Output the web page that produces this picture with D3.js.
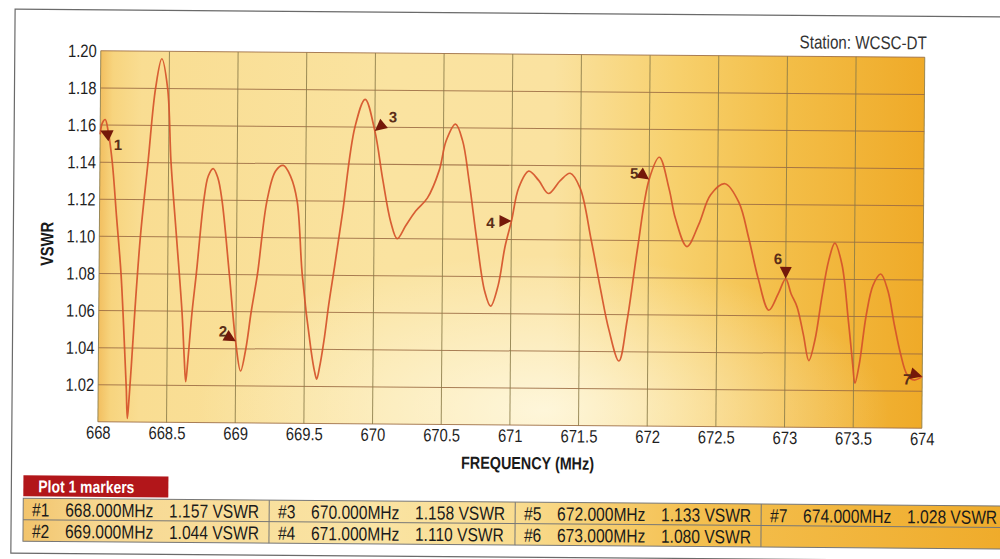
<!DOCTYPE html>
<html>
<head>
<meta charset="utf-8">
<script src="https://cdn.jsdelivr.net/npm/d3@7"></script>
<style>
  body { margin: 0; background: #fff; }
  text { font-family: "Liberation Sans", Arial, sans-serif; }
  /* no narrow face installed, so squeeze the text a little */
  .cond   { transform-box: fill-box; transform: scaleX(0.82); }
  .cond-s { transform-origin: left center; }
  .cond-m { transform-origin: center center; }
  .cond-e { transform-origin: right center; }
</style>
</head>
<body>
<div id="chart"></div>
<script>
// size of the page
var w = 1000;
var h = 559;

// trace
var freqs = [668.000, 668.015, 668.036, 668.060, 668.090, 668.125, 668.160, 668.190, 668.205, 668.214,
             668.225, 668.240, 668.263, 668.299, 668.350, 668.401, 668.445, 668.489, 668.518, 668.562,
             668.606, 668.625, 668.637, 668.650, 668.680, 668.708, 668.759, 668.790, 668.825, 668.860,
             668.891, 668.949, 669.000, 669.036, 669.073, 669.110, 669.153, 669.219, 669.280, 669.336,
             669.390, 669.438, 669.480, 669.547, 669.575, 669.591, 669.610, 669.642, 669.674, 669.715,
             669.770, 669.855, 669.928, 670.000, 670.060, 670.121, 670.169, 670.230, 670.302, 670.386,
             670.471, 670.520, 670.587, 670.640, 670.688, 670.748, 670.809, 670.853, 670.906, 670.954,
             671.000, 671.051, 671.123, 671.196, 671.268, 671.353, 671.425, 671.498, 671.582, 671.654,
             671.715, 671.790, 671.848, 671.920, 672.000, 672.073, 672.146, 672.194, 672.279, 672.364,
             672.449, 672.553, 672.655, 672.728, 672.800, 672.879, 672.947, 673.000, 673.040, 673.084,
             673.132, 673.173, 673.216, 673.264, 673.312, 673.356, 673.409, 673.457, 673.493, 673.510,
             673.540, 673.589, 673.637, 673.692, 673.745, 673.793, 673.841, 673.889, 673.940, 674.000];
var vswr  = [1.155, 1.161, 1.163, 1.156, 1.140, 1.110, 1.080, 1.040, 1.018, 1.002,
             1.012, 1.030, 1.060, 1.100, 1.140, 1.180, 1.196, 1.180, 1.140, 1.100,
             1.060, 1.035, 1.022, 1.032, 1.060, 1.080, 1.120, 1.133, 1.137, 1.132,
             1.120, 1.080, 1.043, 1.028, 1.040, 1.060, 1.080, 1.120, 1.136, 1.139,
             1.133, 1.120, 1.080, 1.040, 1.028, 1.024, 1.030, 1.045, 1.064, 1.085,
             1.114, 1.160, 1.175, 1.158, 1.132, 1.109, 1.100, 1.107, 1.115, 1.122,
             1.137, 1.153, 1.162, 1.153, 1.132, 1.100, 1.072, 1.064, 1.075, 1.096,
             1.110, 1.128, 1.137, 1.132, 1.125, 1.132, 1.136, 1.128, 1.100, 1.073,
             1.052, 1.035, 1.057, 1.096, 1.133, 1.145, 1.128, 1.112, 1.097, 1.109,
             1.125, 1.131, 1.121, 1.102, 1.080, 1.063, 1.072, 1.080, 1.072, 1.065,
             1.050, 1.036, 1.047, 1.070, 1.090, 1.0995, 1.088, 1.059, 1.034, 1.024,
             1.034, 1.061, 1.077, 1.083, 1.074, 1.056, 1.040, 1.029, 1.026, 1.028];

// markers (also the table)
var markerIds   = [1, 2, 3, 4, 5, 6, 7];
var markerFreqs = [668, 669, 670, 671, 672, 673, 674];
var markerVswr  = [1.157, 1.044, 1.158, 1.110, 1.133, 1.080, 1.028];

// axis ticks
var xTicks = [668, 668.5, 669, 669.5, 670, 670.5, 671, 671.5, 672, 672.5, 673, 673.5, 674];
var yTicks = [1.02, 1.04, 1.06, 1.08, 1.10, 1.12, 1.14, 1.16, 1.18, 1.20];
var yGrid  = [1.00, 1.02, 1.04, 1.06, 1.08, 1.10, 1.12, 1.14, 1.16, 1.18, 1.20];

var station = "Station: WCSC-DT";

// plot box
var plotL = 99, plotR = 923, plotT = 54, plotB = 425;

var svg = d3.select("#chart")
            .append("svg")
            .attr("width", w)
            .attr("height", h);

var defs = svg.append("defs");

var bg = defs.append("linearGradient").attr("id", "bg");
[["0%", "#f2bf60"], ["1.5%", "#f7d47e"], ["5%", "#f9dd92"], ["35%", "#fae3a0"],
 ["55%", "#fae2a0"], ["70%", "#f7d06c"], ["83%", "#f3be48"], ["100%", "#efaa28"]]
  .forEach(function(s) { bg.append("stop").attr("offset", s[0]).attr("stop-color", s[1]); });

var glow = defs.append("radialGradient").attr("id", "glow")
               .attr("cx", "54%").attr("cy", "96%").attr("r", "42%");
glow.append("stop").attr("offset", "0%").attr("stop-color", "#fffbe8").attr("stop-opacity", 0.8);
glow.append("stop").attr("offset", "100%").attr("stop-color", "#fffbe8").attr("stop-opacity", 0);

var tbg = defs.append("linearGradient").attr("id", "tbg");
[["0%", "#f2c46c"], ["8%", "#f7d892"], ["35%", "#fae4a4"], ["50%", "#f9dc90"],
 ["68%", "#f4c050"], ["100%", "#efab2a"]]
  .forEach(function(s) { tbg.append("stop").attr("offset", s[0]).attr("stop-color", s[1]); });

// the scan is a little tilted
var root = svg.append("g").attr("transform", "rotate(0.45,500,280)");

// outer frame
root.append("rect")
    .attr("x", 13).attr("y", 13)
    .attr("width", 1010).attr("height", 544)
    .attr("fill", "none")
    .attr("stroke", "#6a6a6a")
    .attr("stroke-width", 1.2);

var x = d3.scaleLinear().domain([668, 674]).range([plotL, plotR]);
var y = d3.scaleLinear().domain([1.00, 1.20]).range([plotB, plotT]);

root.append("rect")
    .attr("x", plotL).attr("y", plotT)
    .attr("width", plotR - plotL).attr("height", plotB - plotT)
    .attr("fill", "url(#bg)");
root.append("rect")
    .attr("x", plotL).attr("y", plotT)
    .attr("width", plotR - plotL).attr("height", plotB - plotT)
    .attr("fill", "url(#glow)");

// grid
root.append("g")
    .selectAll("line")
    .data(yGrid)
    .enter()
    .append("line")
    .attr("x1", plotL).attr("x2", plotR)
    .attr("y1", function(d) { return y(d); })
    .attr("y2", function(d) { return y(d); })
    .attr("stroke", "#9a6a42")
    .attr("stroke-opacity", 0.85)
    .attr("stroke-width", 1);

root.append("g")
    .selectAll("line")
    .data(xTicks)
    .enter()
    .append("line")
    .attr("y1", plotT).attr("y2", plotB)
    .attr("x1", function(d) { return x(d); })
    .attr("x2", function(d) { return x(d); })
    .attr("stroke", "#8a7a48")
    .attr("stroke-opacity", 0.85)
    .attr("stroke-width", 1);

// axes (labels only)
var yAxis = root.append("g")
    .attr("transform", "translate(" + plotL + ",0)")
    .call(d3.axisLeft(y).tickValues(yTicks).tickSize(0).tickPadding(4)
            .tickFormat(d3.format(".2f")));
yAxis.select(".domain").remove();
yAxis.selectAll("text")
     .attr("class", "cond cond-e")
     .attr("font-size", "18px")
     .attr("fill", "#1e1e1e")
     .style("font-family", "'Liberation Sans', Arial, sans-serif");

var xAxis = root.append("g")
    .attr("transform", "translate(0," + plotB + ")")
    .call(d3.axisBottom(x).tickValues(xTicks).tickSize(0).tickPadding(4)
            .tickFormat(function(d) { return d3.format("")(d); }));
xAxis.select(".domain").remove();
xAxis.selectAll("text")
     .attr("class", "cond cond-m")
     .attr("font-size", "18px")
     .attr("fill", "#1e1e1e")
     .style("font-family", "'Liberation Sans', Arial, sans-serif");

// titles
root.append("g")
    .attr("transform", "translate(53," + ((plotT + plotB) / 2 + 8) + ") rotate(-90)")
    .append("text")
    .attr("class", "cond cond-m")
    .attr("text-anchor", "middle")
    .attr("font-size", "18px")
    .attr("font-weight", "bold")
    .attr("fill", "#1a1a1a")
    .text("VSWR");

root.append("text")
    .attr("class", "cond cond-m")
    .attr("x", 529).attr("y", 469)
    .attr("text-anchor", "middle")
    .attr("font-size", "17.5px")
    .attr("font-weight", "bold")
    .attr("fill", "#1a1a1a")
    .text("FREQUENCY (MHz)");

root.append("text")
    .attr("class", "cond cond-e")
    .attr("x", plotR + 2).attr("y", 46)
    .attr("text-anchor", "end")
    .attr("font-size", "18.5px")
    .attr("fill", "#333")
    .text(station);

// trace
var line = d3.line()
    .x(function(d, i) { return x(freqs[i]); })
    .y(function(d) { return y(d); })
    .curve(d3.curveCatmullRom.alpha(0.5));

root.append("path")
    .datum(vswr)
    .attr("d", line)
    .attr("fill", "none")
    .attr("stroke", "#d5532a")
    .attr("stroke-width", 1.7)
    .attr("stroke-opacity", 0.92);

// marker arrows: apex on the trace, body pointing away
var markerAngle = [25, 210, -40, 180, 215, -90, 195];
var labelDx = [18, -13, 18, -21, -15, -8, -15];
var labelDy = [14, -10, -14, 2, -6, -20, 3];

var mk = root.append("g")
    .selectAll("g")
    .data(markerIds)
    .enter()
    .append("g")
    .attr("transform", function(d, i) {
        return "translate(" + x(markerFreqs[i]) + "," + y(markerVswr[i]) + ")";
    });

mk.append("path")
  .attr("d", "M0,0 L12,-6 L12,6 Z")
  .attr("transform", function(d, i) { return "rotate(" + markerAngle[i] + ")"; })
  .attr("fill", "#74180a");

mk.append("text")
  .attr("x", function(d, i) { return labelDx[i]; })
  .attr("y", function(d, i) { return labelDy[i]; })
  .attr("dy", "0.35em")
  .attr("text-anchor", "middle")
  .attr("font-size", "15px")
  .attr("font-weight", "bold")
  .attr("fill", "#5a2e18")
  .text(function(d) { return d; });

// marker table
var tblLeft = 25, tblTop = 502, rowH = 21.5, colW = 246;

root.append("rect")
    .attr("x", tblLeft).attr("y", 479)
    .attr("width", 145).attr("height", 21)
    .attr("fill", "#b2161a");
root.append("text")
    .attr("class", "cond cond-s")
    .attr("x", 40).attr("y", 496)
    .attr("font-size", "17px")
    .attr("font-weight", "bold")
    .attr("fill", "#fff")
    .text("Plot 1 markers");

root.append("rect")
    .attr("x", tblLeft).attr("y", tblTop)
    .attr("width", 1000 - tblLeft + 10).attr("height", rowH * 2)
    .attr("fill", "url(#tbg)")
    .attr("stroke", "#777")
    .attr("stroke-width", 1);

root.append("line")
    .attr("x1", tblLeft).attr("x2", 1010)
    .attr("y1", tblTop + rowH).attr("y2", tblTop + rowH)
    .attr("stroke", "#777").attr("stroke-width", 1);

root.append("g")
    .selectAll("line")
    .data([1, 2, 3])
    .enter()
    .append("line")
    .attr("x1", function(d) { return tblLeft + d * colW; })
    .attr("x2", function(d) { return tblLeft + d * colW; })
    .attr("y1", tblTop).attr("y2", tblTop + rowH * 2)
    .attr("stroke", "#777").attr("stroke-width", 1);

var cells = root.append("g")
    .selectAll("g")
    .data(markerIds)
    .enter()
    .append("g")
    .attr("transform", function(d, i) {
        var col = Math.floor(i / 2), row = i % 2;
        return "translate(" + (tblLeft + col * colW) + "," + (tblTop + row * rowH + 18) + ")";
    });

cells.append("text").attr("class", "cond cond-s").attr("x", 9)
     .attr("font-size", "19px").attr("fill", "#1a1a1a")
     .text(function(d) { return "#" + d; });
cells.append("text").attr("class", "cond cond-s").attr("x", 42)
     .attr("font-size", "19px").attr("fill", "#1a1a1a")
     .text(function(d, i) { return d3.format(".3f")(markerFreqs[i]) + "MHz"; });
cells.append("text").attr("class", "cond cond-s").attr("x", 146)
     .attr("font-size", "19px").attr("fill", "#1a1a1a")
     .text(function(d, i) { return d3.format(".3f")(markerVswr[i]) + " VSWR"; });
</script>
</body>
</html>
